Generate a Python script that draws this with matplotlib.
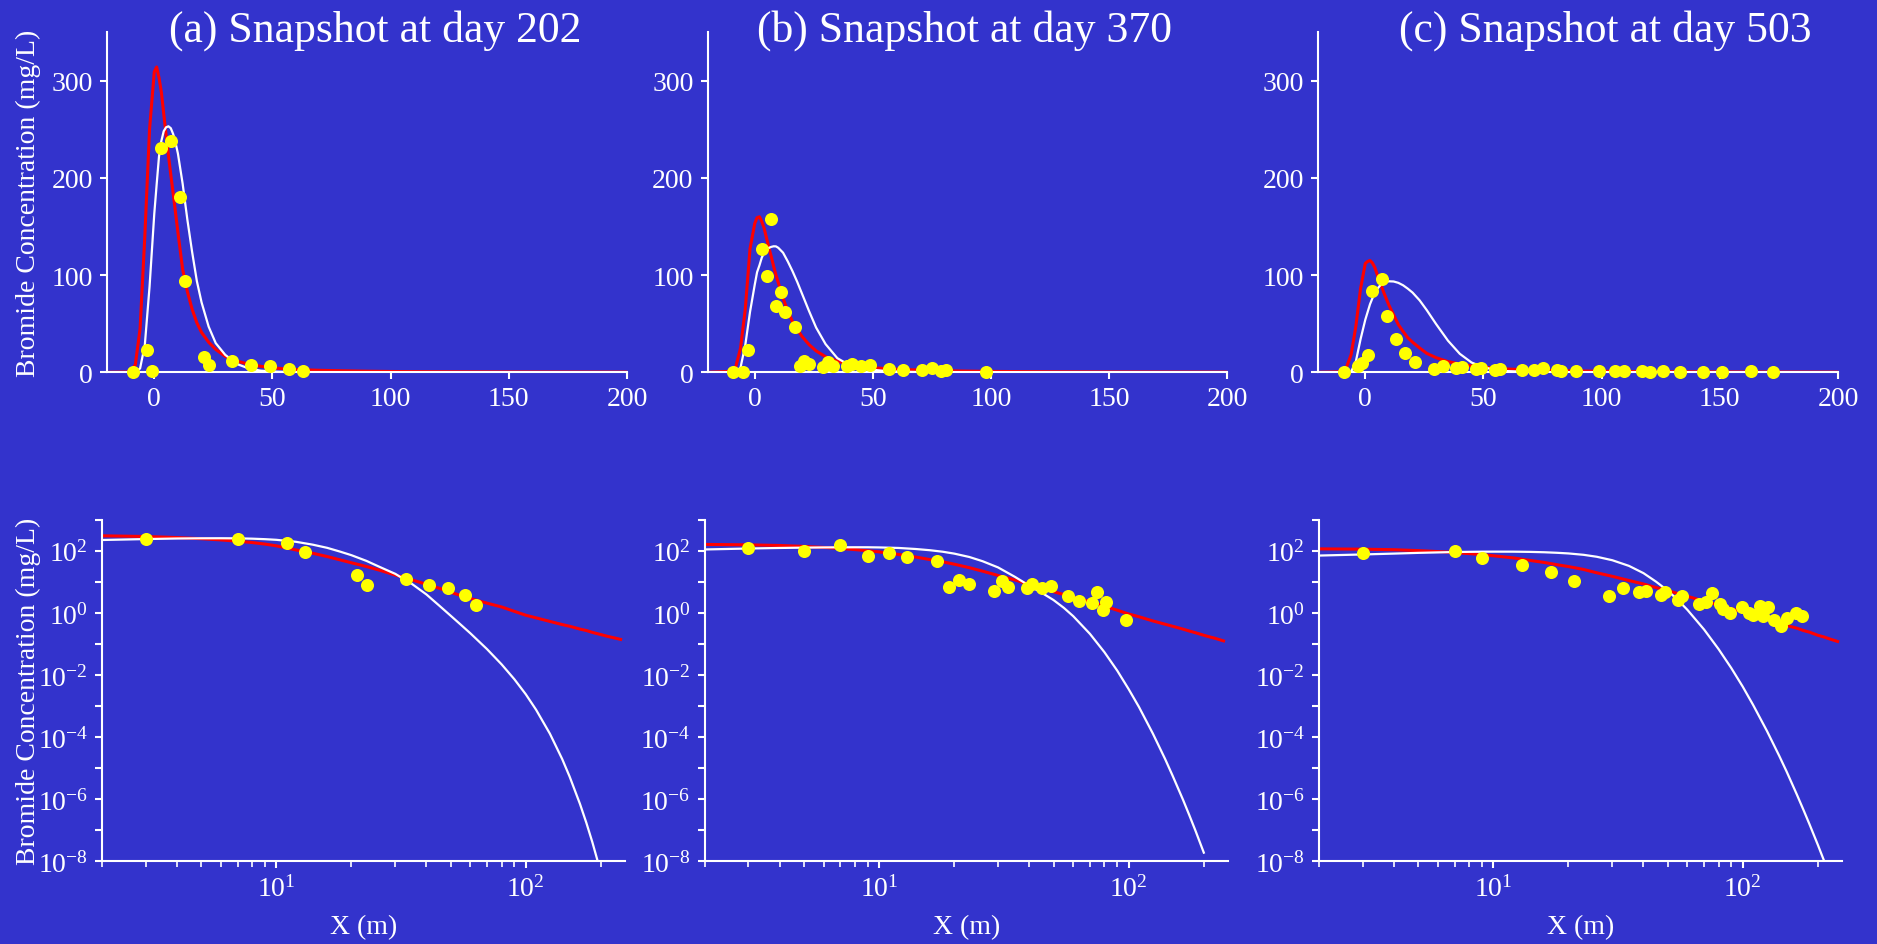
import numpy as np
import matplotlib
matplotlib.use('Agg')
import matplotlib.pyplot as plt
from matplotlib.ticker import FixedLocator, FuncFormatter, NullFormatter, LogLocator

# distance along the flow path (m) where the model curves were read
x_model = [-20, -10, -8, -6, -4, -2, 0, 1, 2, 3, 4, 5, 6, 7, 8, 9, 10, 12, 14, 16, 18, 20,
           23, 26, 30, 35, 40, 45, 50, 55, 60, 70, 80, 90, 100, 110, 125, 140, 150, 165,
           175, 185, 200, 213, 220, 240]
nan = np.nan

# red model (day 202, 370, 503)
red_a = [0, 0.3, 8, 45, 140, 250, 309, 314, 303, 288, 266, 244, 223, 203, 184, 164, 144, 106,
         83, 65, 51, 41, 31, 23.5, 16.5, 11.5, 8.3, 6.2, 4.6, 3.6, 2.9, 2.05, 1.55, 1.12, 0.84,
         0.69, 0.53, 0.42, 0.37, 0.3, 0.27, 0.235, 0.2, 0.175, 0.165, 0.14]
red_b = [0, 1, 6, 25, 65, 127, 153, 159, 160, 155, 148, 138, 128, 119, 109, 100, 92, 76, 63,
         52, 44, 37, 28.5, 22, 16, 11.5, 8.3, 6.2, 4.8, 3.9, 3.2, 2.3, 1.65, 1.22, 0.92, 0.75,
         0.55, 0.43, 0.37, 0.3, 0.26, 0.23, 0.19, 0.165, 0.155, 0.125]
red_c = [0, 0.5, 5, 18, 47, 86, 112, 114, 115, 112.5, 108, 101, 94, 87.5, 81, 75, 69, 59, 49,
         42, 35.5, 31, 25, 19.5, 15, 11, 8.5, 6.5, 5.2, 4.2, 3.4, 2.4, 1.78, 1.36, 1.07, 0.85,
         0.62, 0.47, 0.39, 0.32, 0.27, 0.24, 0.19, 0.165, 0.15, 0.12]

# white model
white_a = [0, 0, 0, 4, 28, 88, 163, 193, 222, 238, 248, 252, 253, 251, 245, 236, 225, 194,
           157, 124, 94, 72, 47, 30, 18, 8.5, 3.9, 1.71, 0.81, 0.41, 0.219, 0.0675, 0.022,
           7.3e-3, 2.4e-3, 7.6e-4, 1.28e-4, 1.96e-5, 5.3e-6, 7.0e-7, 1.73e-7, 4.1e-8, 4.4e-9,
           nan, nan, nan]
white_b = [0, 0, 0, 5, 28, 62, 90, 103, 110, 118, 123, 126, 128, 129, 129.6, 129.5, 128, 123,
           114, 104, 93, 81, 63, 46, 29, 14.5, 7.5, 4.36, 2.59, 1.45, 0.78, 0.21, 0.054,
           0.0138, 3.5e-3, 9.3e-4, 1.3e-4, 1.96e-5, 5.7e-6, 9.7e-7, 3.05e-7, 9.9e-8, 1.9e-8,
           nan, nan, nan]
white_c = [0, 0, 0, 0.5, 11, 34, 54, 62, 70, 76, 81, 85.5, 88.5, 91, 92.3, 93.2, 93.6, 93.4,
           92, 89.5, 86, 82, 74, 64, 49.5, 32.5, 19, 10, 5.2, 2.57, 1.25, 0.29, 0.068, 0.0166,
           4.2e-3, 1.09e-3, 1.58e-4, 2.5e-5, 7.7e-6, 1.38e-6, 4.6e-7, 1.59e-7, 3.4e-8, 9.3e-9,
           4.7e-9, nan]

# measured bromide
obs_x_a = [-9, -3, -1, 3, 7, 11, 13, 21, 23, 33, 41, 49, 57, 63]
obs_c_a = [0.5, 23, 1, 231, 238, 180, 94, 16, 7.7, 12, 7.7, 6.1, 3.7, 1.8]
obs_x_b = [-9, -5, -3, 3, 5, 7, 9, 11, 13, 17, 19, 21, 23, 29, 31, 33, 39, 41, 45, 49, 57,
           63, 71, 75, 79, 81, 98]
obs_c_b = [0.5, 0.5, 23, 127, 99, 158, 68, 83, 62, 47, 6.9, 11.3, 8.8, 5.1, 10.5, 6.9, 6.5,
           8.8, 6.5, 7.4, 3.5, 2.4, 2.1, 4.75, 1.2, 2.3, 0.58]
obs_x_c = [-9, -3, -1.3, 1, 3, 7, 9, 13, 17, 21, 29, 33, 38.5, 41, 47, 49, 55, 57, 66.5,
           71.5, 75, 81, 83, 89, 99, 105.5, 109.5, 117, 120.5, 126, 133, 143, 151, 163, 172.5]
obs_c_c = [0.5, 6.8, 10, 17.8, 84, 96, 58, 34, 20, 10.9, 3.5, 6.1, 4.75, 5.1, 3.7, 4.75, 2.6,
           3.5, 1.9, 2.3, 4.5, 2.0, 1.38, 1.02, 1.6, 1.0, 0.84, 1.68, 0.79, 1.55, 0.58, 0.37,
           0.69, 1.02, 0.78]

titles = ['(a) Snapshot at day 202', '(b) Snapshot at day 370', '(c) Snapshot at day 503']
ylabel = 'Bromide Concentration (mg/L)'
xlabel = 'X (m)'

plt.rcParams['font.family'] = ['Liberation Serif', 'DejaVu Serif']
plt.rcParams['mathtext.fontset'] = 'custom'
plt.rcParams['mathtext.rm'] = 'Liberation Serif'
plt.rcParams['mathtext.it'] = 'Liberation Serif:italic'
plt.rcParams['mathtext.bf'] = 'Liberation Serif:bold'

BG = '#3333cc'
W, H = 1877, 945
fig = plt.figure(figsize=(W / 100, H / 100), dpi=100, facecolor=BG)

reds = [red_a, red_b, red_c]
whites = [white_a, white_b, white_c]
obs_x = [obs_x_a, obs_x_b, obs_x_c]
obs_c = [obs_c_a, obs_c_b, obs_c_c]

# pixel boxes (left, right) for each column
top_lr = [(107, 627), (707.5, 1227), (1318, 1838)]
bot_lr = [(102, 625), (704.5, 1228), (1319, 1842)]
title_cx = [375, 964, 1605]


def style(ax):
    ax.set_facecolor(BG)
    for s in ['top', 'right']:
        ax.spines[s].set_visible(False)
    for s in ['left', 'bottom']:
        ax.spines[s].set_color('white')
        ax.spines[s].set_linewidth(1.5)
    ax.tick_params(which='major', colors='white', length=5, width=1.5, labelsize=20,
                   direction='out', pad=5)
    ax.tick_params(which='minor', colors='white', length=4.5, width=1.2, direction='out')


def log_label(v, pos):
    e = int(round(np.log10(v)))
    if e % 2 == 0 and e <= 2:
        return r'$\mathregular{10^{%d}}$' % e
    return ''


for i in range(3):
    # linear snapshot
    l, r = top_lr[i]
    ax = fig.add_axes([l / W, 1 - 373.3 / H, (r - l) / W, 340.3 / H])
    style(ax)
    ax.plot(x_model, reds[i], color='red', lw=2.2)
    ax.plot(x_model, whites[i], color='white', lw=1.6)
    ax.plot(obs_x[i], obs_c[i], 'o', color='yellow', ms=9.4, mec='none', clip_on=False,
            zorder=5)
    ax.set_xlim(-20, 200)
    ax.set_ylim(0, 350)
    ax.set_xticks([0, 50, 100, 150, 200])
    ax.set_yticks([0, 100, 200, 300])
    fig.text(title_cx[i] / W, 1 - 42 / H, titles[i], ha='center', va='baseline',
             fontsize=31.5, color='white')

    # log-log snapshot
    l, r = bot_lr[i]
    ax = fig.add_axes([l / W, 1 - 862.3 / H, (r - l) / W, 341.6 / H])
    style(ax)
    ax.set_xscale('log')
    ax.set_yscale('log')
    ax.plot(x_model, reds[i], color='red', lw=2.2)
    ax.plot(x_model, whites[i], color='white', lw=1.6)
    ox = np.array(obs_x[i])
    oc = np.array(obs_c[i])
    ax.plot(ox[ox > 0], oc[ox > 0], 'o', color='yellow', ms=9.4, mec='none', zorder=5)
    ax.set_xlim(2, 250)
    ax.set_ylim(1e-8, 1e3)
    ax.xaxis.set_major_locator(LogLocator(base=10))
    ax.xaxis.set_minor_locator(LogLocator(base=10, subs=np.arange(2, 10)))
    ax.xaxis.set_minor_formatter(NullFormatter())
    ax.yaxis.set_major_locator(FixedLocator(10.0 ** np.arange(-8, 4)))
    ax.yaxis.set_major_formatter(FuncFormatter(log_label))
    ax.yaxis.set_minor_locator(FixedLocator([]))
    fig.text((l + r) / 2 / W, 1 - 928 / H, xlabel, ha='center', va='center',
             fontsize=20, color='white')

fig.text(28 / W, 1 - 203 / H, ylabel, rotation=90, ha='center', va='center',
         fontsize=20, color='white')
fig.text(28 / W, 1 - 691.5 / H, ylabel, rotation=90, ha='center', va='center',
         fontsize=20, color='white')

fig.savefig('out.png', dpi=100, facecolor=BG)
